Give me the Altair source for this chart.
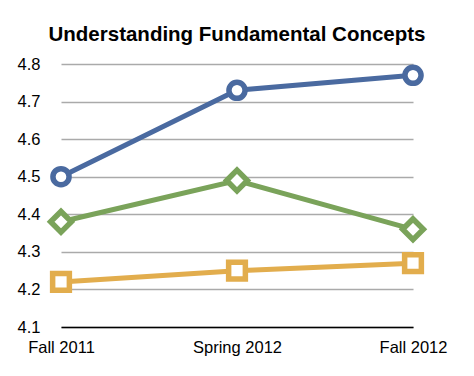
import altair as alt
import pandas as pd

terms = ["Fall 2011", "Spring 2012", "Fall 2012"]
series_names = ["Series 1", "Series 2", "Series 3"]
blue_vals = [4.50, 4.73, 4.77]
green_vals = [4.38, 4.49, 4.36]
yellow_vals = [4.22, 4.25, 4.27]
y_ticks = [4.1, 4.2, 4.3, 4.4, 4.5, 4.6, 4.7, 4.8]

colors = ["#4a6aa0", "#7aa35a", "#e2ad4d"]
shapes = ["circle", "diamond", "square"]
sizes = [260, 430, 280]

rows = []
for name, vals in zip(series_names, [blue_vals, green_vals, yellow_vals]):
    for t, v in zip(terms, vals):
        rows.append({"term": t, "series": name, "value": v})
df = pd.DataFrame(rows)

x = alt.X("term:N", sort=terms, scale=alt.Scale(type="point", padding=0),
          axis=alt.Axis(title=None, labelAngle=0, ticks=False, domain=True,
                        domainColor="#000000", domainWidth=1.5, grid=False,
                        labelFontSize=16.5, labelColor="#000000", labelPadding=12,
                        labelFont="Liberation Sans"))
y = alt.Y("value:Q", scale=alt.Scale(domain=[4.1, 4.8], zero=False, nice=False),
          axis=alt.Axis(title=None, values=y_ticks, format=".1f", ticks=False,
                        domain=False, grid=True, gridColor="#aaaaaa", gridWidth=1.5,
                        labelFontSize=16.5, labelColor="#000000", labelPadding=21,
                        labelFont="Liberation Sans"))
color = alt.Color("series:N", scale=alt.Scale(domain=series_names, range=colors), legend=None)

base = alt.Chart(df)
layers = [base.mark_line(strokeWidth=5).encode(x=x, y=y, color=color)]
for name, col, shp, sz in zip(series_names, colors, shapes, sizes):
    layers.append(
        base.transform_filter(alt.datum.series == name)
        .mark_point(shape=shp, size=sz, filled=True, fill="white", stroke=col,
                    strokeWidth=5.5, opacity=1)
        .encode(x=x, y=y)
    )

chart = alt.layer(*layers).properties(
    width=352, height=263,
    title=alt.TitleParams("Understanding Fundamental Concepts", fontSize=20.5, fontWeight="bold",
                          font="Liberation Sans", color="#000000", offset=11, anchor="middle"),
    autosize=alt.AutoSizeParams(type="none"),
    padding={"left": 53, "top": 56, "right": 50, "bottom": 40},
).configure_view(stroke=None)

chart.save("out.html", embed_options={"renderer": "svg", "actions": False})
